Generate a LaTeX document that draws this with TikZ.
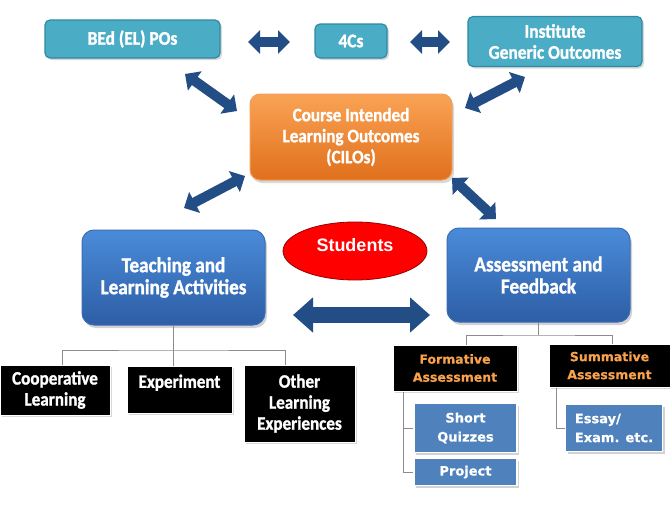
\documentclass[tikz,border=0pt]{standalone}
\usepackage{fontspec}
\setmainfont{Carlito}
\newfontfamily\calb[FakeStretch=0.9, BoldFeatures={FakeBold=1.3}]{Carlito}
\newfontfamily\verd[BoldFeatures={FakeBold=0.6}]{DejaVu Sans}
\newfontfamily\arl{Liberation Sans}
\usetikzlibrary{arrows.meta,shadows,shapes.geometric}
\definecolor{topblue}{HTML}{4BACC6}
\definecolor{topedge}{HTML}{2F8AA3}
\definecolor{arrowblue}{HTML}{234E85}
\definecolor{midtop}{HTML}{4A8BD9}
\definecolor{midbot}{HTML}{2D5EA6}
\definecolor{midedge}{HTML}{3A6DB5}
\definecolor{orgtop}{HTML}{FAA355}
\definecolor{orgbot}{HTML}{E0701C}
\definecolor{orgedge}{HTML}{F0A060}
\definecolor{glow}{HTML}{F9A24B}
\definecolor{qblue}{HTML}{4F81BD}
\definecolor{treegray}{HTML}{8C8C8C}
\tikzset{
  topbox/.style={draw=topedge, line width=1.2pt, fill=topblue, rounded corners=5pt,
    text=white, font=\calb\bfseries\fontsize{19.3}{21}\selectfont, align=center,
    drop shadow={opacity=0.3, shadow xshift=2pt, shadow yshift=-2pt}},
  cilobox/.style={draw=orgedge, line width=1pt, rounded corners=10pt, top color=orgtop, bottom color=orgbot,
    text=white, font=\calb\bfseries\fontsize{19}{21}\selectfont, align=center,
    drop shadow={opacity=0.3, shadow xshift=2pt, shadow yshift=-3pt}},
  midbox/.style={draw=midedge, line width=1pt, rounded corners=12pt, top color=midtop, bottom color=midbot,
    text=white, font=\calb\bfseries\fontsize{21.3}{22}\selectfont, align=center,
    drop shadow={opacity=0.35, shadow xshift=2pt, shadow yshift=-3pt}},
  blackbox/.style={draw=white, line width=1pt, fill=black, text=white,
    font=\calb\bfseries\fontsize{19}{21}\selectfont, align=center,
    drop shadow={opacity=0.3, shadow xshift=2pt, shadow yshift=-2pt}},
  assessbox/.style={draw=white, line width=1pt, fill=black, text=glow,
    font=\verd\bfseries\fontsize{12.5}{18}\selectfont, align=center,
    drop shadow={opacity=0.3, shadow xshift=2pt, shadow yshift=-2pt}},
  quizbox/.style={draw=white, line width=1.5pt, fill=qblue, text=white,
    font=\verd\bfseries\fontsize{13}{19}\selectfont, align=center,
    drop shadow={opacity=0.35, shadow xshift=2pt, shadow yshift=-2pt}},
  darr/.style={draw=arrowblue, line width=10pt, {Triangle[width=23pt,length=12pt]}-{Triangle[width=23pt,length=12pt]}},
  bigarr/.style={draw=arrowblue, line width=16pt, {Triangle[width=34pt,length=20pt]}-{Triangle[width=34pt,length=20pt]}},
  tree/.style={draw=treegray, line width=0.9pt},
}
\begin{document}
\begin{tikzpicture}[x=1pt,y=-1pt]
\useasboundingbox (0,0) rectangle (670,522);
\fill[white] (0,0) rectangle (670,522);

% top row
\node[topbox, minimum width=175pt, minimum height=38pt] (bed) at (132.5,39) {BEd (EL) POs};
\node[topbox, minimum width=72pt, minimum height=34pt] (fourc) at (351,41) {4Cs};
\node[topbox, minimum width=174pt, minimum height=50pt] (inst) at (555,41.5) {Institute\\Generic Outcomes};

% CILO
\node[cilobox, minimum width=202pt, minimum height=86pt] (cilo) at (351,137) {Course Intended\\Learning Outcomes\\(CILOs)};

% middle
\node[midbox, minimum width=183pt, minimum height=95pt] (tla) at (173.5,277.5) {Teaching and\\Learning Activities};
\node[midbox, minimum width=183pt, minimum height=94pt] (af) at (538.5,275) {Assessment and\\Feedback};
\node[ellipse, draw=red!60!black, line width=0.8pt, fill=red, minimum width=144pt, minimum height=58pt] (stu) at (355,251) {};
\node[font=\arl\bfseries\fontsize{18}{20}\selectfont, text=white] (stutext) at (355,245) {Students};

% block arrows
\coordinate (a1s) at (248,42); \coordinate (a1e) at (290,42);
\coordinate (a2s) at (410,42); \coordinate (a2e) at (450,42);
\coordinate (a3s) at (185,74); \coordinate (a3e) at (237,111);
\coordinate (a4s) at (525,77); \coordinate (a4e) at (465,108);
\coordinate (a5s) at (245,176); \coordinate (a5e) at (184,208);
\coordinate (a6s) at (452,178); \coordinate (a6e) at (496,219);
\coordinate (a7s) at (293,315); \coordinate (a7e) at (430,315);
\draw[darr] (a1s) -- (a1e);
\draw[darr] (a2s) -- (a2e);
\draw[darr] (a3s) -- (a3e);
\draw[darr] (a4s) -- (a4e);
\draw[darr] (a5s) -- (a5e);
\draw[darr] (a6s) -- (a6e);
\draw[bigarr] (a7s) -- (a7e);

% left tree
\node[blackbox, minimum width=110pt, minimum height=50pt] (coop) at (55,390) {Cooperative\\Learning};
\node[blackbox, minimum width=105pt, minimum height=47pt] (exp) at (179.5,389.5) {};
\node[font=\calb\bfseries\fontsize{19}{21}\selectfont, text=white, anchor=north] (exptext) at (179.5,371) {Experiment};
\node[blackbox, minimum width=111pt, minimum height=77pt] (oth) at (299.5,403.5) {Other\\Learning\\Experiences};
\coordinate (tj) at (173.5,350);
\draw[tree] (tla.south) -- (tj);
\draw[tree] (coop.north -| 62,0) |- (tj) -| (oth.north -| 285,0);
\draw[tree] (tj) -- (exp.north -| tj);

% right tree
\node[assessbox, minimum width=124pt, minimum height=46pt] (form) at (455,368) {Formative\\Assessment};
\node[assessbox, minimum width=121pt, minimum height=43pt] (summ) at (609.5,365.5) {Summative\\Assessment};
\node[quizbox, minimum width=103pt, minimum height=49pt] (quiz) at (465.5,428) {Short\\Quizzes};
\node[quizbox, minimum width=103pt, minimum height=27pt] (proj) at (465.5,472) {Project};
\node[quizbox, minimum width=97pt, minimum height=47pt, align=left] (essay) at (614,428) {Essay/\\Exam. etc.};
\coordinate (aj) at (538.5,335);
\draw[tree] (af.south) -- (aj);
\draw[tree] (form.north -| 466,0) |- (aj) -| (summ.north -| 612,0);
\draw[tree] (form.south -| 403,0) |- (proj.west);
\draw[tree] (403,428) -- (quiz.west);
\draw[tree] (summ.south -| 556,0) |- (essay.west);
\end{tikzpicture}
\end{document}
